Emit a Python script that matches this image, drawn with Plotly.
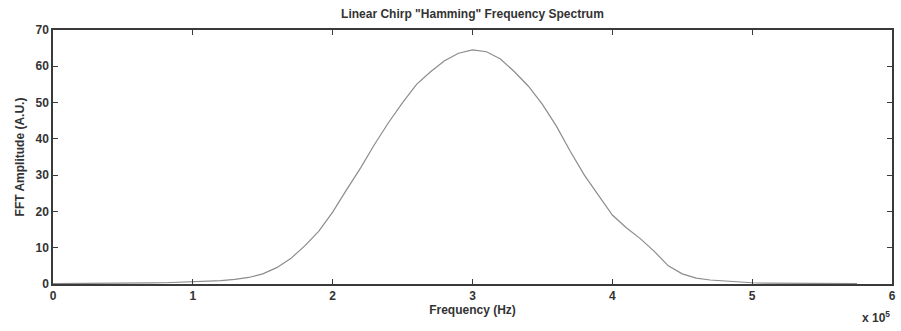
import plotly.graph_objects as go

# Frequency in Hz
freq_hz = [
    0, 10000, 20000, 30000, 40000, 50000, 60000, 70000, 80000, 90000,
    100000, 110000, 120000, 130000, 140000, 150000, 160000, 170000, 180000, 190000,
    200000, 210000, 220000, 230000, 240000, 250000, 260000, 270000, 280000, 290000,
    300000, 310000, 320000, 330000, 340000, 350000, 360000, 370000, 380000, 390000,
    400000, 410000, 420000, 430000, 440000, 450000, 460000, 470000, 480000, 490000,
    500000, 510000, 520000, 530000, 540000, 550000, 560000, 570000, 575000,
]
amplitude = [
    0.1, 0.1, 0.1, 0.1, 0.15, 0.2, 0.25, 0.3, 0.35, 0.45,
    0.6, 0.75, 0.95, 1.3, 1.8, 2.8, 4.5, 7.0, 10.5, 14.5,
    19.8, 26.0, 32.0, 38.5, 44.5, 50.0, 55.0, 58.5, 61.5, 63.6,
    64.5, 64.0, 62.0, 58.5, 54.5, 49.5, 43.5, 36.5, 30.0, 24.5,
    19.0, 15.5, 12.5, 9.0, 5.0, 2.8, 1.6, 1.1, 0.8, 0.5,
    0.35, 0.25, 0.2, 0.15, 0.1, 0.1, 0.1, 0.1, 0.1,
]

x_tickvals = [0, 100000, 200000, 300000, 400000, 500000, 600000]
x_ticktext = ["0", "1", "2", "3", "4", "5", "6"]
y_tickvals = [0, 10, 20, 30, 40, 50, 60, 70]

FONT = "Liberation Sans, Arial, sans-serif"
AX = "#3a3a3a"

fig = go.Figure()
fig.add_trace(go.Scatter(
    x=freq_hz, y=amplitude, mode="lines",
    line=dict(color="#8c8c8c", width=1.2),
    showlegend=False, hoverinfo="skip",
))

fig.update_layout(
    width=901, height=331,
    margin=dict(l=53, r=5, t=30, b=47),
    paper_bgcolor="white", plot_bgcolor="white",
    font=dict(family=FONT, size=12, color="#333333"),
    title=dict(
        text="Linear Chirp \"Hamming\" Frequency Spectrum",
        x=0.5, xref="paper", xanchor="center",
        y=0.958, yref="container", yanchor="middle",
        font=dict(family=FONT, size=12, color="#333333", weight="bold"),
    ),
)

fig.update_xaxes(
    range=[0, 600000], tickvals=x_tickvals, ticktext=x_ticktext,
    showgrid=False, zeroline=False,
    showline=True, linecolor=AX, linewidth=1.5, mirror="ticks",
    ticks="inside", ticklen=5, tickwidth=1.2, tickcolor=AX,
    tickfont=dict(family=FONT, size=12, color="#333333", weight="bold"),
    title=dict(text="Frequency (Hz)", standoff=3,
               font=dict(family=FONT, size=12, color="#333333", weight="bold")),
)
fig.update_yaxes(
    range=[0, 70], tickvals=y_tickvals,
    showgrid=False, zeroline=False,
    showline=True, linecolor=AX, linewidth=1.5, mirror="ticks",
    ticks="inside", ticklen=5, tickwidth=1.2, tickcolor=AX,
    tickfont=dict(family=FONT, size=12, color="#333333", weight="bold"),
    title=dict(text="FFT Amplitude (A.U.)", standoff=8,
               font=dict(family=FONT, size=12, color="#333333", weight="bold")),
)

fig.add_annotation(
    text="x 10<sup>5</sup>", xref="paper", yref="paper",
    x=1.0, y=-0.09, xanchor="right", yanchor="top", showarrow=False,
    font=dict(family=FONT, size=12, color="#333333", weight="bold"),
)

fig.write_html("out.html")
